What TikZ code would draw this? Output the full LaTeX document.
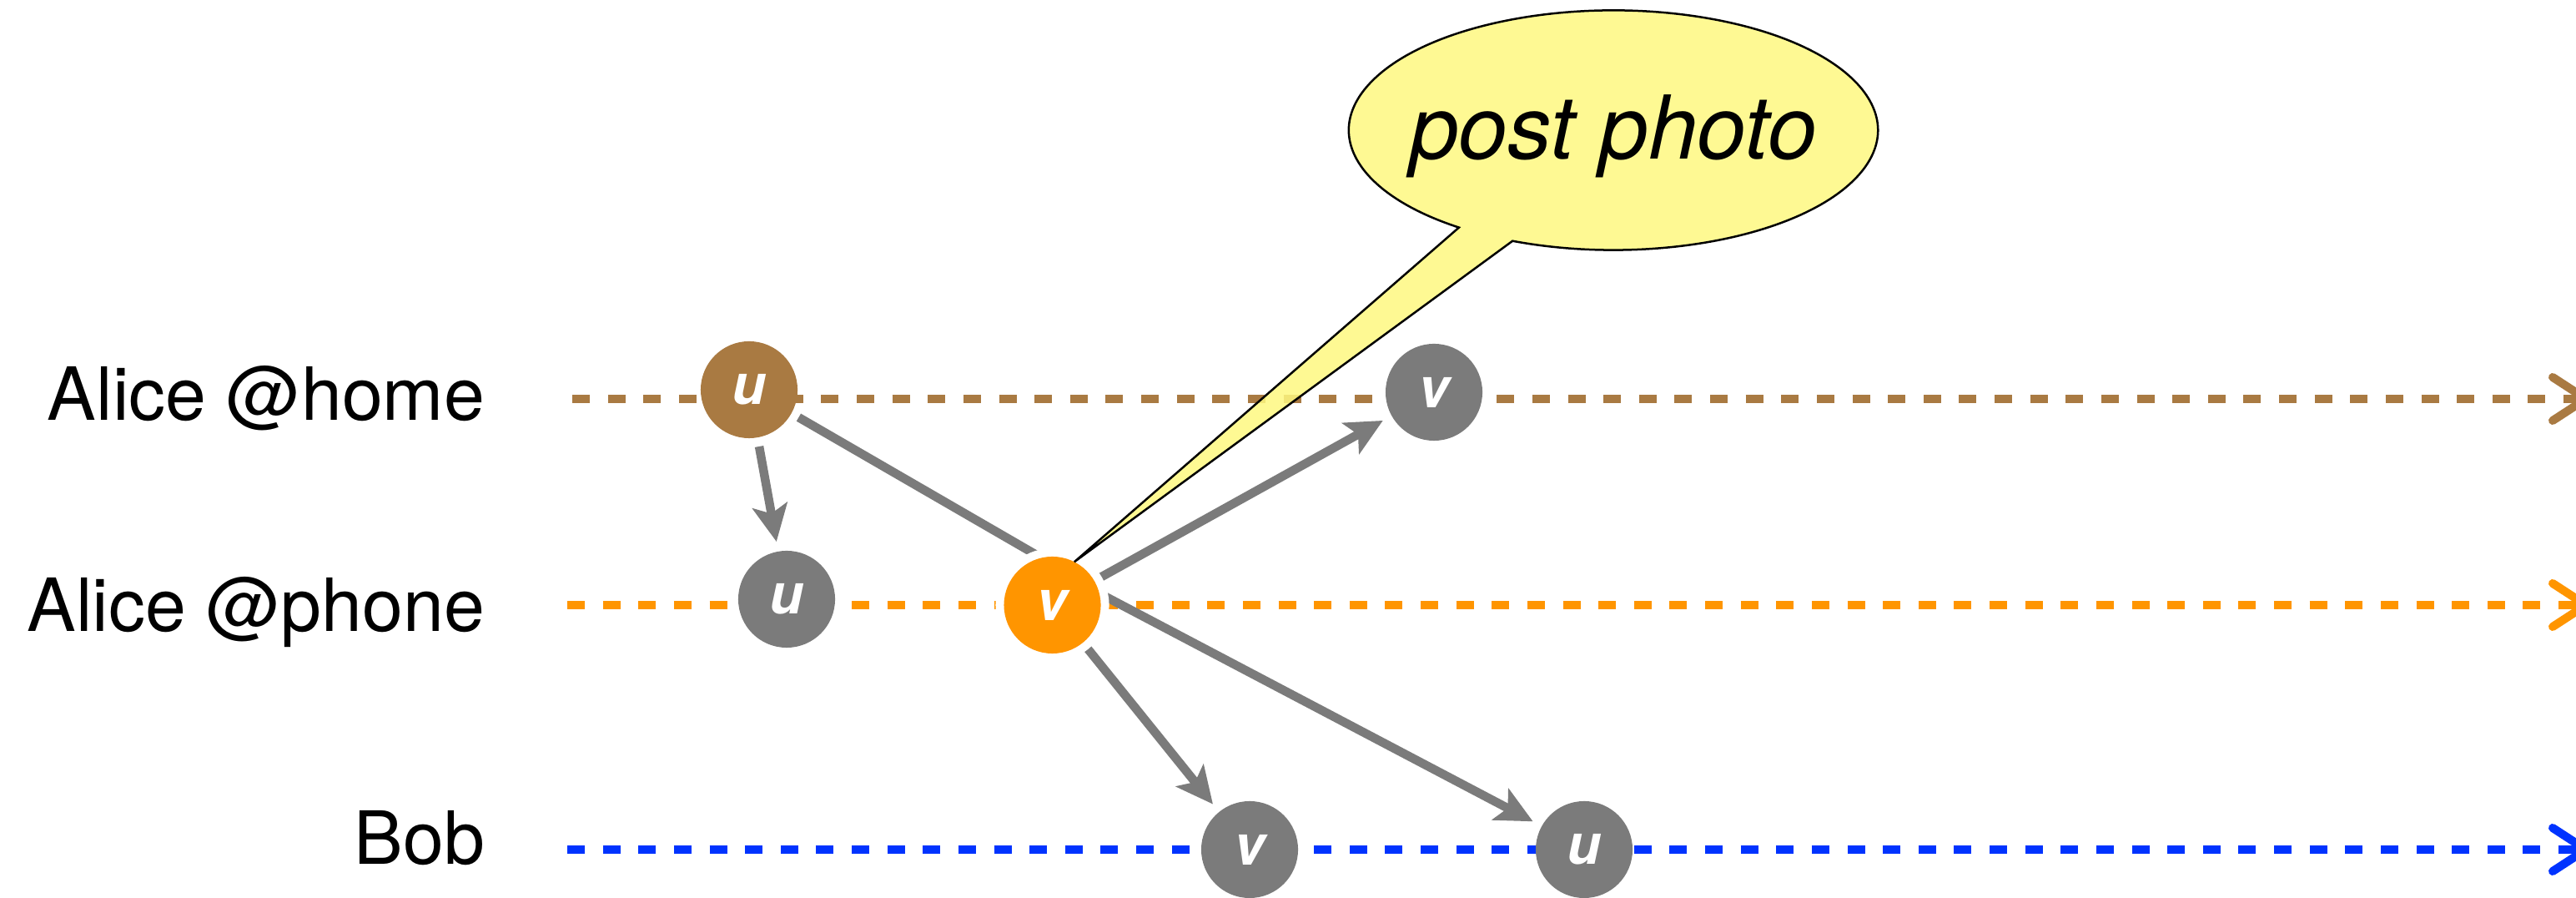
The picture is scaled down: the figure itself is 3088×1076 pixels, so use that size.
\documentclass[tikz,border=0pt]{standalone}
\usepackage{fontspec}
\setmainfont{TeX Gyre Heros}
\usetikzlibrary{arrows.meta}

\definecolor{lanebrown}{RGB}{169,122,66}
\definecolor{laneorange}{RGB}{255,149,0}
\definecolor{laneblue}{RGB}{0,51,255}
\definecolor{evgray}{RGB}{123,123,123}
\definecolor{noteyellow}{RGB}{254,248,128}

\pgfdeclarelayer{bg}
\pgfsetlayers{bg,main}

\begin{document}
\begin{tikzpicture}[x=0.01cm, y=0.01cm,
  lane/.style={line width=0.1cm, dash pattern=on 0.21cm off 0.216cm,
    -{Straight Barb[length=0.4cm, width=0.52cm, round]}},
  event/.style={circle, minimum size=1.16cm, inner sep=0pt, outer sep=0pt,
    text=white, font=\fontsize{19}{19}\selectfont\bfseries\itshape},
  halo/.style={preaction={draw=white, line width=0.2cm}},
  msgline/.style={draw=evgray, line width=0.105cm},
  msg/.style={msgline, -{Stealth[length=0.44cm, width=0.42cm, inset=0.1cm]},
    shorten >=0.12cm},
  who/.style={anchor=base east, inner sep=0pt, outer sep=0pt,
    font=\fontsize{25}{30}\selectfont},
  notetext/.style={anchor=base, inner sep=0pt, outer sep=0pt,
    font=\fontsize{30}{36}\selectfont\itshape},
]
\useasboundingbox (0,0) rectangle (3088,1076);

% process names
\node[who] (lhome)  at (581,572) {Alice @home};
\node[who] (lphone) at (581,319) {Alice @phone};
\node[who] (lbob)   at (581,40)  {Bob};

% time lines
\coordinate (hs) at (686,598);  \coordinate (he) at (3105,598);
\coordinate (ps) at (680,351);  \coordinate (pe) at (3105,351);
\coordinate (bs) at (680,58);   \coordinate (be) at (3105,58);

% events
\node[event, fill=lanebrown] (a1) at (898,609) {u};
\node[event, fill=evgray] (p1) at (943,358) {u};
\node[event, fill=laneorange, halo] (p2) at (1261.5,351) {v};
\node[event, fill=evgray] (a2) at (1719,606) {v};
\node[event, fill=evgray] (b1) at (1498,58) {v};
\node[event, fill=evgray] (b2) at (1899,58) {u};

\begin{pgfonlayer}{bg}
  \draw[lane, draw=lanebrown]  (hs) -- (he);
  \draw[lane, draw=laneorange] (ps) -- (pe);
  \draw[lane, draw=laneblue]   (bs) -- (be);

  % message edges
  \draw[msg, shorten <=0.11cm] (a1.-80) -- (p1.100);
  \draw[msgline, shorten <=0.1cm] (a1.-29) -- (p2.103);
  \draw[msg] (p2.30) -- (a2.-151);
  \draw[msg] (p2.-51.7) -- (b1.129);
  \draw[msg] (p2.14) -- (b2.151);
\end{pgfonlayer}

% speech bubble
\coordinate (cc) at (1934,920);
\path[draw=black, line width=0.025cm, fill=noteyellow, fill opacity=0.85]
  (cc) ++(247.6:3.17cm and 1.435cm)
  arc[start angle=247.6, end angle=594.3, x radius=3.17cm, y radius=1.435cm]
  -- (p2.63) -- cycle;
\node[notetext] (note) at (1934,885.5) {post photo};
\end{tikzpicture}
\end{document}
